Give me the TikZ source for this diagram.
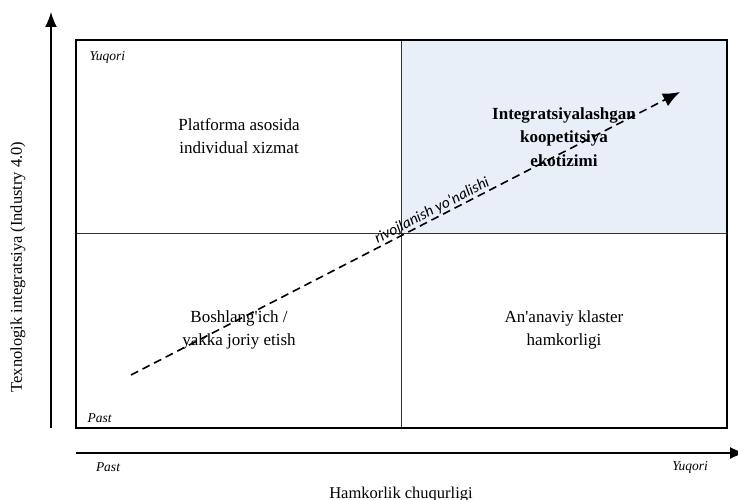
\documentclass[tikz,border=0pt]{standalone}
\usepackage{fontspec}
\setmainfont{Liberation Serif}
\newfontfamily\dirfont{Carlito}
\usetikzlibrary{arrows.meta}

\definecolor{quadblue}{RGB}{232,239,248}

\begin{document}
\begin{tikzpicture}[x=1pt, y=1pt, >={Latex[length=15pt,width=12pt]},
  quad/.style = {align=center, font=\fontsize{17}{23}\selectfont},
  corner/.style = {font=\fontsize{13.5}{15}\selectfont\itshape},
  axislabel/.style = {font=\fontsize{16.5}{18}\selectfont}]
\useasboundingbox (0,0) rectangle (738,500);
% quadrant frame
\coordinate (sw) at (76,72);
\coordinate (ne) at (727,460);
\coordinate (c) at (401,267);
\fill[quadblue] (c) rectangle (ne);
\draw[line width=0.9pt, black!80] (c |- sw) -- (c |- ne);
\draw[line width=0.9pt, black!80] (c -| sw) -- (c -| ne);
\draw[line width=1.8pt] (sw) rectangle (ne);
% axes
\coordinate (yo) at (51,72);
\coordinate (yt) at (51,488);
\coordinate (xo) at (76,47);
\coordinate (xt) at (745,47);
\draw[->, line width=1.5pt] (yo) -- (yt);
\draw[->, line width=1.5pt] (xo) -- (xt);
% corner labels
\node[corner, anchor=west] (topy) at (86,443) {Yuqori};
\node[corner, anchor=west] (boty) at (84,82) {Past};
\node[corner] (pastx) at (108,33) {Past};
\node[corner] (highx) at (690,33) {Yuqori};
\node[axislabel] (xlab) at (401,5) {Hamkorlik chuqurligi};
\node[axislabel, rotate=90] (ylab) at (18,233) {Texnologik integratsiya (Industry 4.0)};
% quadrant texts
\node[quad] (q1) at (239,364) {Platforma asosida\\individual xizmat};
\node[quad, font=\fontsize{17}{23.5}\selectfont\bfseries] (q2) at (564,363) {Integratsiyalashgan\\koopetitsiya\\ekotizimi};
\node[quad] (q3) at (239,170) {Boshlang\textquotesingle ich /\\yakka joriy etish};
\node[quad] (q4) at (564,170) {An\textquotesingle anaviy klaster\\hamkorligi};
% development direction
\coordinate (dstart) at (131,125);
\coordinate (dend) at (680,408);
\draw[-{Latex[length=17pt,width=14pt]}, line width=1.6pt, dash pattern=on 8pt off 5pt] (dstart) -- (dend)
  node[pos=0.555, sloped, above=-3pt, font=\fontsize{15.5}{17}\selectfont\dirfont\itshape] (dir) {rivojlanish yo\textquotesingle nalishi};
\end{tikzpicture}
\end{document}
